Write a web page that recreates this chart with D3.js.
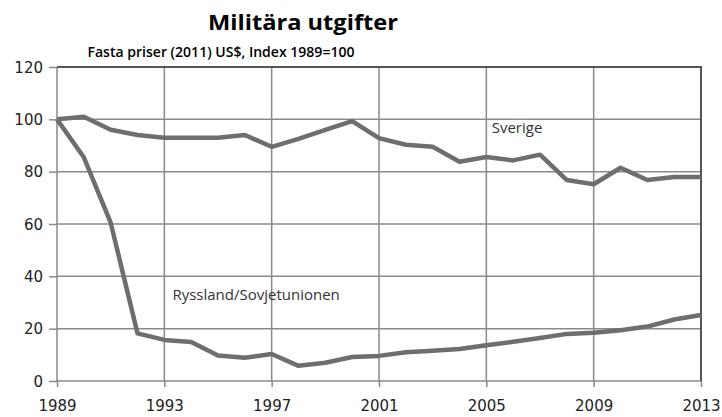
<!DOCTYPE html>
<html>
<head>
<meta charset="utf-8">
<script src="https://cdn.jsdelivr.net/npm/d3@7"></script>
<style>
  body { margin: 0; background: #fff; }
  text { font-family: "Open Sans", "DejaVu Sans", sans-serif; }
</style>
</head>
<body>
<div id="chart"></div>
<script>
// years on the x axis
var years = d3.range(1989, 2014);
// Sverige, index 1989=100
var sverige = [100, 101, 96, 94, 93, 93, 93, 94, 89.5, 92.5, 96, 99.3, 92.8, 90.3, 89.5, 83.8, 85.6, 84.3, 86.5, 76.8, 75.2, 81.5, 76.8, 78, 78];
// Ryssland/Sovjetunionen, index 1989=100
var ryssland = [100, 85.5, 60.5, 18.2, 15.7, 14.9, 9.7, 8.9, 10.3, 5.8, 7, 9.2, 9.6, 11, 11.6, 12.2, 13.7, 15, 16.4, 18, 18.4, 19.4, 20.8, 23.5, 25.2];
var xTicks = [1989, 1993, 1997, 2001, 2005, 2009, 2013];
var yTicks = [0, 20, 40, 60, 80, 100, 120];

var margin = { top: 67, right: 21, bottom: 36, left: 57 },
  width = 722 - margin.left - margin.right,
  height = 417 - margin.top - margin.bottom;

var svg = d3.select("#chart")
  .append("svg")
  .attr("width", 722)
  .attr("height", 417);

svg.append("text")
  .attr("x", 303)
  .attr("y", 30)
  .attr("text-anchor", "middle")
  .attr("font-size", 22)
  .attr("font-weight", "bold")
  .attr("textLength", 190)
  .attr("lengthAdjust", "spacingAndGlyphs")
  .text("Militära utgifter");

svg.append("text")
  .attr("x", 221)
  .attr("y", 57)
  .attr("text-anchor", "middle")
  .attr("font-size", 15)
  .attr("font-weight", 600)
  .attr("textLength", 267)
  .attr("lengthAdjust", "spacingAndGlyphs")
  .text("Fasta priser (2011) US$, Index 1989=100");

var g = svg.append("g")
  .attr("transform", "translate(" + margin.left + "," + margin.top + ")");

var x = d3.scaleLinear().domain([1989, 2013]).range([0, width]);
var y = d3.scaleLinear().domain([0, 120]).range([height, 0]);

// grid
g.append("g").selectAll("line")
  .data(yTicks)
  .join("line")
  .attr("x1", 0).attr("x2", width)
  .attr("y1", d => y(d)).attr("y2", d => y(d))
  .attr("stroke", "#8a8a8a")
  .attr("stroke-width", 1.5);

g.append("g").selectAll("line")
  .data(xTicks)
  .join("line")
  .attr("x1", d => x(d)).attr("x2", d => x(d))
  .attr("y1", 0).attr("y2", height)
  .attr("stroke", "#8a8a8a")
  .attr("stroke-width", 1.5);

// darker frame on top and right
g.append("path")
  .attr("d", "M0,0H" + width + "V" + height)
  .attr("fill", "none")
  .attr("stroke", "#555")
  .attr("stroke-width", 2);

// axes
var yAxis = g.append("g")
  .call(d3.axisLeft(y).tickValues(yTicks).tickSize(8).tickPadding(6));
var xAxis = g.append("g")
  .attr("transform", "translate(0," + height + ")")
  .call(d3.axisBottom(x).tickValues(xTicks).tickFormat(d3.format("d")).tickSize(6).tickPadding(10));

[yAxis, xAxis].forEach(function (a) {
  a.select(".domain").remove();
  a.selectAll("line").attr("stroke", "#8a8a8a").attr("stroke-width", 1.5);
  a.selectAll("text").attr("font-size", 15).attr("fill", "#222")
    .style("font-family", "'DejaVu Sans', sans-serif");
});
yAxis.selectAll("text").attr("dy", "0.35em");
xAxis.selectAll("text").attr("dy", "0.9em");

var line = d3.line()
  .x((d, i) => x(years[i]))
  .y(d => y(d));

[sverige, ryssland].forEach(function (s) {
  g.append("path")
    .datum(s)
    .attr("fill", "none")
    .attr("stroke", "#6e6e6e")
    .attr("stroke-width", 4.5)
    .attr("stroke-linejoin", "round")
    .attr("d", line);
});

g.append("text")
  .attr("x", x(2005.2))
  .attr("y", y(94.8))
  .attr("font-size", 15)
  .attr("fill", "#333")
  .text("Sverige");

g.append("text")
  .attr("x", x(1993.3))
  .attr("y", y(31))
  .attr("font-size", 15)
  .attr("fill", "#333")
  .text("Ryssland/Sovjetunionen");
</script>
</body>
</html>
